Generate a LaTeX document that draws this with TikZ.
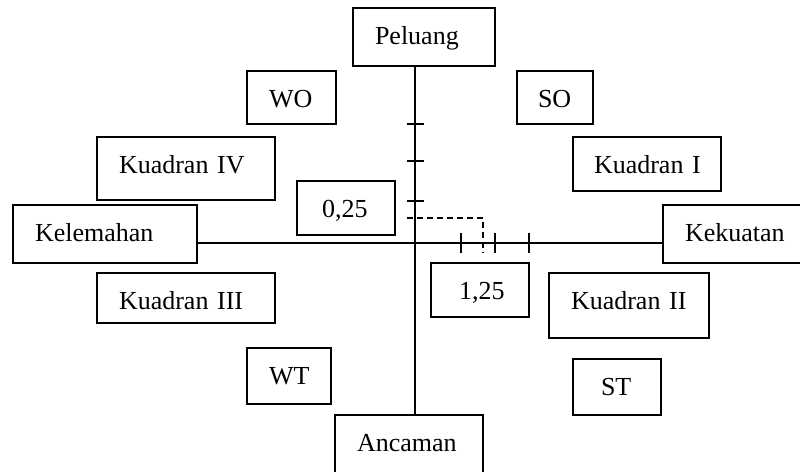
\documentclass[tikz,border=0pt]{standalone}
\usepackage{fontspec}
\setmainfont{Liberation Serif}

\tikzset{
	kotak/.style={draw, line width=2.2pt, anchor=north west, outer sep=0pt,
		inner xsep=22pt, inner ysep=0pt, text height=36pt, align=left,
		font=\fontsize{26}{30}\selectfont},
	sumbu/.style={line width=1.8pt}
}

\begin{document}
\begin{tikzpicture}[x=1pt,y=-1pt]
\useasboundingbox (0,0) rectangle (800,471);
\clip (0,0) rectangle (800,471);
\node[kotak, text width=98pt, text depth=22pt] (peluang) at (353,8) {Peluang};
\node[kotak, text width=104pt, text depth=24pt] (ancaman) at (335,415) {Ancaman};
\node[kotak, text width=140pt, text depth=22pt] (kelemahan) at (13,205) {Kelemahan};
\node[kotak, text width=100pt, text depth=22pt] (kekuatan) at (663,205) {Kekuatan};
\node[kotak, text width=45pt, text depth=17pt] (wo) at (247,71) {WO};
\node[kotak, inner xsep=21pt, text width=34pt, text depth=17pt] (so) at (517,71) {SO};
\node[kotak, text width=134pt, text depth=27pt] (kuadranIV) at (97,137) {Kuadran~IV};
\node[kotak, inner xsep=21pt, text width=106pt, text depth=18pt] (kuadranI) at (573,137) {Kuadran~I};
\node[kotak, inner xsep=25pt, text width=48pt, text depth=18pt] (nilaiy) at (297,181) {0,25};
\node[kotak, text width=134pt, text depth=14pt] (kuadranIII) at (97,273) {Kuadran~III};
\node[kotak, text width=40pt, text depth=20pt] (wt) at (247,348) {WT};
\node[kotak, inner xsep=28pt, text width=42pt, text depth=18pt] (nilaix) at (431,263) {1,25};
\node[kotak, text width=116pt, text depth=29pt] (kuadranII) at (549,273) {Kuadran~II};
\node[kotak, inner xsep=28pt, text width=32pt, text depth=20pt] (st) at (573,359) {ST};
% sumbu
\coordinate (o) at (415,243);
\draw[sumbu] (o |- peluang.south) -- (o |- ancaman.north);
\draw[sumbu] (kelemahan.east |- o) -- (kekuatan.west |- o);
\foreach \y in {124,161,201} \draw[sumbu] (407,\y) -- (424,\y);
\foreach \x in {461,495,529} \draw[sumbu] (\x,233) -- (\x,253);
\draw[sumbu, dash pattern=on 6pt off 4pt] (407,218) -| (483,253);
\end{tikzpicture}
\end{document}
